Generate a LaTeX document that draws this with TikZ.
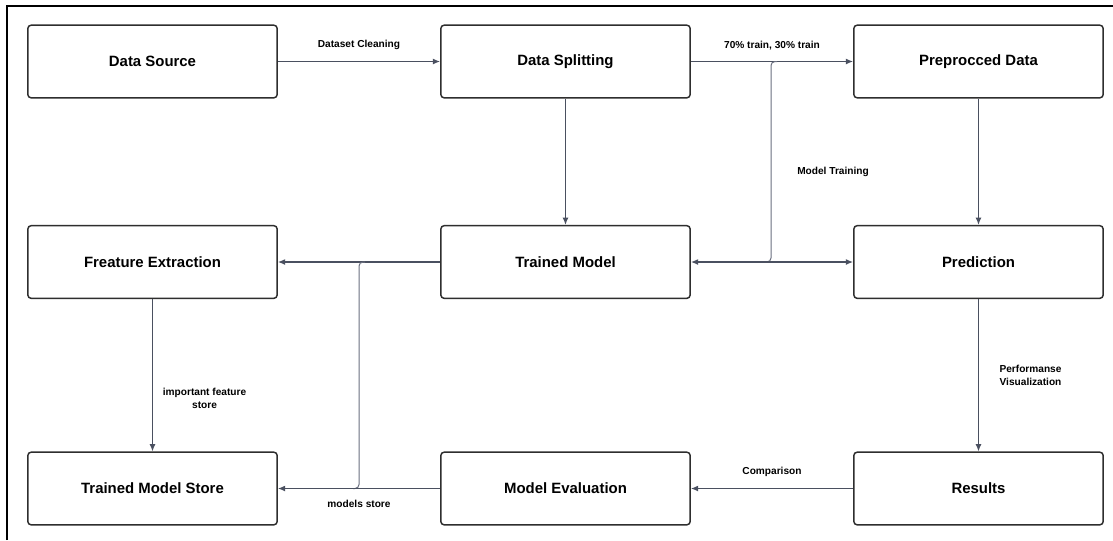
\documentclass[tikz,border=0pt]{standalone}
\usepackage{fontspec}
\setmainfont{Liberation Sans}
\usetikzlibrary{arrows.meta,positioning,calc}
\definecolor{boxline}{HTML}{2E2E2E}
\definecolor{flowline}{HTML}{4A5060}
\definecolor{wireline}{HTML}{6B7080}

\begin{document}
\begin{tikzpicture}[x=0.75pt,y=-0.75pt,
  blk/.style={draw=boxline,line width=1.1pt,rounded corners=2.5pt,fill=white,
    minimum width=187pt,minimum height=54.5pt,
    font=\bfseries\fontsize{11.2}{13}\selectfont},
  flow/.style={draw=flowline,line width=0.9pt,-{Latex[length=5.5pt,width=4.5pt]}},
  wire/.style={draw=wireline,line width=0.75pt,rounded corners=3pt},
  lbl/.style={font=\bfseries\fontsize{7.6}{9.5}\selectfont,align=center}]
  \useasboundingbox (0,0) rectangle (1113,540);
  \fill[white] (0,0) rectangle (1113,540);
  % frame
  \draw[black,line width=1.5pt] (7,540) -- (7,6) -- (1113,6);
  % blocks
  \node[blk] (src)   at (152.5,61.5) {Data Source};
  \node[blk] (split) at (565.5,61.5) {Data Splitting};
  \node[blk] (prep)  at (978.5,61.5) {Preprocced Data};
  \node[blk] (feat)  at (152.5,262)  {Freature Extraction};
  \node[blk] (model) at (565.5,262)  {Trained Model};
  \node[blk] (pred)  at (978.5,262)  {Prediction};
  \node[blk] (store) at (152.5,488.5) {Trained Model Store};
  \node[blk] (eval)  at (565.5,488.5) {Model Evaluation};
  \node[blk] (res)   at (978.5,488.5) {Results};
  % branch points
  \coordinate (tsplit) at (771,61.5);
  \coordinate (tjoin)  at (771,262);
  \coordinate (lsplit) at (359,262);
  \coordinate (ljoin)  at (359,488.5);
  % top row
  \draw[flow] (src) -- node[lbl,above=5pt]{Dataset Cleaning} (split);
  \draw[flow] (split) -- node[lbl,above=5pt]{70\% train, 30\% train} (prep);
  \draw[flow] (split) -- (model);
  \draw[flow] (prep) -- (pred);
  % model training branch
  \draw[wire] ($(tsplit)+(6,0)$) -- (tsplit)
    -- node[lbl,right=16pt,pos=0.55]{Model Training} (tjoin) -- ($(tjoin)+(-6,0)$);
  \draw[flow] (tjoin) -- (model.east);
  \draw[flow] (tjoin) -- (pred.west);
  % left side
  \draw[flow] (model) -- (feat);
  \draw[wire] ($(lsplit)+(6,0)$) -- (lsplit) -- (ljoin) -- ($(ljoin)+(-6,0)$);
  \draw[flow] (feat) -- node[lbl,right=4pt,pos=0.65]{important feature\\store} (store);
  % bottom row
  \draw[flow] (pred) -- node[lbl,right=12pt,pos=0.5]{Performanse\\Visualization} (res);
  \draw[flow] (res) -- node[lbl,above=5pt]{Comparison} (eval);
  \draw[flow] (eval) -- node[lbl,below=5pt]{models store} (store);
\end{tikzpicture}
\end{document}
